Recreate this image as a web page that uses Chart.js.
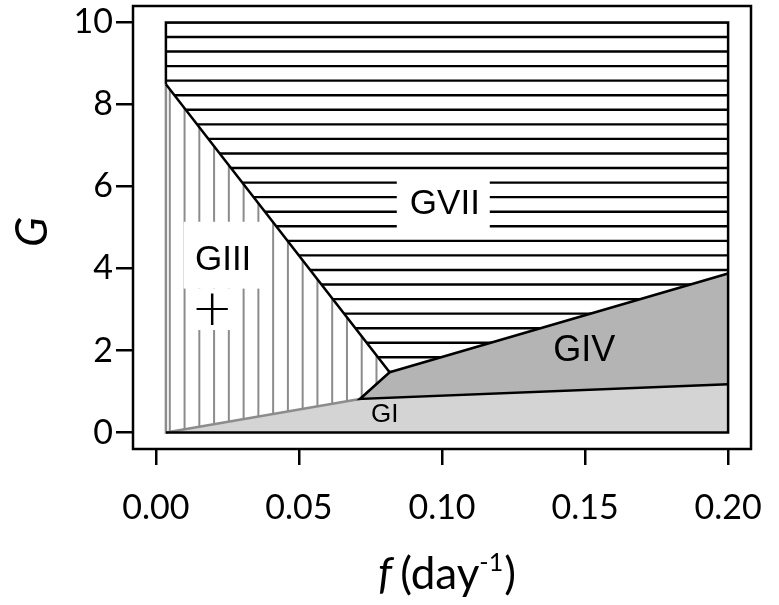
<!DOCTYPE html>
<html><head><meta charset="utf-8">
<script src="https://cdn.jsdelivr.net/npm/chart.js@4.4.1/dist/chart.umd.min.js"></script>
<style>html,body{margin:0;padding:0;background:#fff;}</style>
</head><body>
<canvas id="c" width="779" height="605"></canvas>
<script>
// ---- data ----
const xTicks = [0, 0.05, 0.10, 0.15, 0.20];
const yTicks = [0, 2, 4, 6, 8, 10];
const fRange = [0.0035, 0.2];      // f extent of the diagram
const gRange = [0, 10];            // G extent of the diagram
const upperF = [0.0035, 0.0817, 0.2];   // GIII|GVII and GIV|GVII boundary
const upperG = [8.49, 1.47, 3.88];
const lowerF = [0.0035, 0.0713, 0.2];   // GI boundary
const lowerG = [0, 0.82, 1.18];
const regionNames = ['GI', 'GIII', 'GIV', 'GVII', '+'];
const xTitleParts = ['f', '(day', '-1', ')'];
const yTitle = 'G';

const P = (x, y) => ({x, y});
const polyGVII = [P(fRange[0], upperG[0]), P(fRange[0], gRange[1]), P(fRange[1], gRange[1]), P(fRange[1], upperG[2]), P(upperF[1], upperG[1]), P(fRange[0], upperG[0])];
const polyGIII = [P(lowerF[0], lowerG[0]), P(fRange[0], upperG[0]), P(upperF[1], upperG[1]), P(lowerF[1], lowerG[1]), P(lowerF[0], lowerG[0])];
const polyGIV = [P(lowerF[1], lowerG[1]), P(upperF[1], upperG[1]), P(upperF[2], upperG[2]), P(lowerF[2], lowerG[2]), P(lowerF[1], lowerG[1])];
const polyGI = [P(lowerF[0], gRange[0]), P(lowerF[1], lowerG[1]), P(lowerF[2], lowerG[2]), P(fRange[1], gRange[0]), P(lowerF[0], gRange[0])];

const BLACK = '#000', GRAY = '#8c8c8c';
const base = {showLine: true, pointRadius: 0, borderJoinStyle: 'miter', borderCapStyle: 'butt'};
const fillSet = (label, data, color, hatch) => Object.assign({}, base, {label, data, fill: 'shape', backgroundColor: color, borderWidth: 0, borderColor: 'rgba(0,0,0,0)', order: 10, hatch});
const lineSet = (label, data, color) => Object.assign({}, base, {label, data, fill: false, borderColor: color, borderWidth: 2.5, order: 1});

const datasets = [
  fillSet(regionNames[3], polyGVII, '#ffffff', {dir: 'h', start: 10, step: 0.355, color: BLACK, width: 2.4}),
  fillSet(regionNames[1], polyGIII, '#ffffff', {dir: 'v', start: 0.00486, step: 0.00516, color: GRAY, width: 2}),
  fillSet(regionNames[2], polyGIV, '#b4b4b4'),
  fillSet(regionNames[0], polyGI, '#d4d4d4'),
  lineSet('frameInner', [P(fRange[0], upperG[0]), P(fRange[0], gRange[1]), P(fRange[1], gRange[1]), P(fRange[1], gRange[0]), P(lowerF[0], gRange[0])], BLACK),
  lineSet('upper', [P(upperF[0], upperG[0]), P(upperF[1], upperG[1]), P(upperF[2], upperG[2])], BLACK),
  lineSet('giv', [P(upperF[1], upperG[1]), P(lowerF[1], lowerG[1]), P(lowerF[2], lowerG[2])], BLACK),
  lineSet('gray', [P(fRange[0], upperG[0]), P(fRange[0], gRange[0]), P(lowerF[1], lowerG[1])], GRAY)
];

const hatchPlugin = {
  id: 'hatch',
  afterDatasetDraw(chart, args) {
    const ds = chart.data.datasets[args.index];
    if (!ds.hatch) return;
    const h = ds.hatch, pts = args.meta.data, ctx = chart.ctx;
    const xs = chart.scales.x, ys = chart.scales.y, a = chart.chartArea;
    ctx.save();
    ctx.beginPath();
    pts.forEach((p, i) => i ? ctx.lineTo(p.x, p.y) : ctx.moveTo(p.x, p.y));
    ctx.closePath();
    ctx.clip();
    ctx.strokeStyle = h.color; ctx.lineWidth = h.width;
    ctx.beginPath();
    if (h.dir === 'h') {
      for (let v = h.start; v >= ys.min; v -= h.step) { const y = ys.getPixelForValue(v); ctx.moveTo(a.left, y); ctx.lineTo(a.right, y); }
    } else {
      for (let v = h.start; v <= xs.max; v += h.step) { const x = xs.getPixelForValue(v); ctx.moveTo(x, a.top); ctx.lineTo(x, a.bottom); }
    }
    ctx.stroke();
    ctx.restore();
  }
};

const labelPlugin = {
  id: 'regionLabels',
  afterDatasetsDraw(chart, args, opts) {
    const ctx = chart.ctx, xs = chart.scales.x, ys = chart.scales.y;
    ctx.save();
    opts.items.forEach(it => {
      if (it.box) {
        const x0 = xs.getPixelForValue(it.box[0]), x1 = xs.getPixelForValue(it.box[1]);
        const y0 = ys.getPixelForValue(it.box[3]), y1 = ys.getPixelForValue(it.box[2]);
        ctx.fillStyle = '#fff'; ctx.fillRect(x0, y0, x1 - x0, y1 - y0);
      }
      ctx.fillStyle = '#000';
      ctx.font = it.font;
      ctx.textAlign = 'center'; ctx.textBaseline = 'middle';
      ctx.fillText(it.text, xs.getPixelForValue(it.x), ys.getPixelForValue(it.y));
    });
    ctx.restore();
  }
};

const framePlugin = {
  id: 'frameTitles',
  afterDraw(chart) {
    const ctx = chart.ctx, a = chart.chartArea;
    ctx.save();
    ctx.strokeStyle = '#000'; ctx.lineWidth = 2.5;
    ctx.strokeRect(a.left, a.top, a.right - a.left, a.bottom - a.top);
    // y title
    ctx.fillStyle = '#000';
    ctx.font = 'italic 44px Lato';
    ctx.textAlign = 'center'; ctx.textBaseline = 'middle';
    ctx.translate(33, 232); ctx.rotate(-Math.PI / 2);
    ctx.fillText(yTitle, 0, 0);
    ctx.setTransform(1, 0, 0, 1, 0, 0);
    // x title
    const fonts = ['italic 44px Lato', '44px Lato', '25px Lato', '44px Lato'];
    const dy = [0, 0, -18, 0];
    const gap = [8, 0, 1, 0];
    let w = 0;
    xTitleParts.forEach((t, i) => { ctx.font = fonts[i]; w += ctx.measureText(t).width + gap[i]; });
    let x = 447 - w / 2;
    ctx.textAlign = 'left'; ctx.textBaseline = 'alphabetic';
    xTitleParts.forEach((t, i) => { ctx.font = fonts[i]; ctx.fillText(t, x, 589 + dy[i]); x += ctx.measureText(t).width + gap[i]; });
    ctx.restore();
  }
};

new Chart(document.getElementById('c'), {
  type: 'scatter',
  data: {datasets},
  options: {
    responsive: false, animation: false, devicePixelRatio: 1,
    layout: {padding: {top: 6, right: 28, left: 0, bottom: 0}},
    plugins: {
      legend: {display: false}, tooltip: {enabled: false},
      regionLabels: {items: [
        {text: regionNames[3], x: 0.101, y: 5.57, font: '35px "Liberation Sans", Arial, sans-serif', box: [0.0842, 0.1167, 4.98, 6.18]},
        {text: regionNames[1], x: 0.0235, y: 4.2, font: '35px "Liberation Sans", Arial, sans-serif', box: [0.0097, 0.0367, 3.51, 5.14]},
        {text: regionNames[4], x: 0.0197, y: 2.95, font: '200 50px "DejaVu Sans", sans-serif', box: [0.0125, 0.0285, 2.5, 3.51]},
        {text: regionNames[2], x: 0.1497, y: 1.98, font: '36px "Liberation Sans", Arial, sans-serif'},
        {text: regionNames[0], x: 0.0800, y: 0.43, font: '26px "Liberation Sans", Arial, sans-serif'}
      ]}
    },
    scales: {
      x: {
        type: 'linear', min: -0.008, max: 0.208,
        afterBuildTicks: s => { s.ticks = xTicks.map(v => ({value: v})); },
        afterFit: s => { s.height = 156; s.paddingLeft = 0; s.paddingRight = 0; },
        ticks: {callback: v => v.toFixed(2), font: {family: 'Lato', size: 34}, color: '#000', padding: 23, maxRotation: 0, autoSkip: false},
        grid: {drawOnChartArea: false, drawTicks: true, tickLength: 16, color: '#000', lineWidth: 2.5},
        border: {display: false}
      },
      y: {
        type: 'linear', min: -0.4, max: 10.4,
        afterBuildTicks: s => { s.ticks = yTicks.map(v => ({value: v})); },
        afterFit: s => { s.width = 133; s.paddingTop = 0; s.paddingBottom = 0; },
        ticks: {callback: v => String(v), font: {family: 'Lato', size: 34}, color: '#000', padding: 3, autoSkip: false},
        grid: {drawOnChartArea: false, drawTicks: true, tickLength: 17, color: '#000', lineWidth: 2.5},
        border: {display: false}
      }
    }
  },
  plugins: [hatchPlugin, labelPlugin, framePlugin]
});
</script>
</body></html>
